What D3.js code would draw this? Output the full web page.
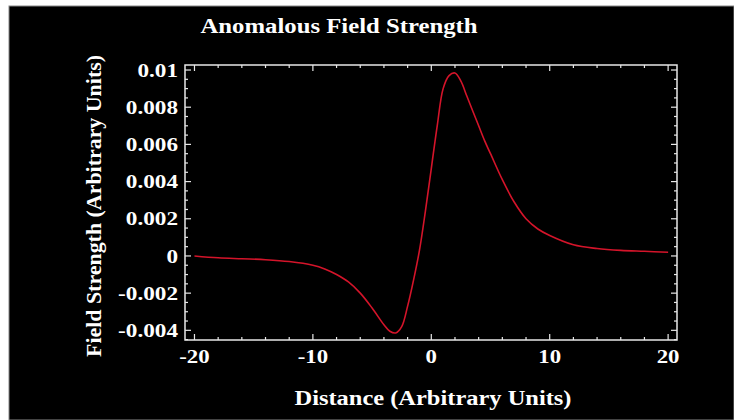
<!DOCTYPE html>
<html>
<head>
<meta charset="utf-8">
<script src="https://cdn.jsdelivr.net/npm/d3@7"></script>
<style>
  body { margin: 0; background: #fff; }
  text { font-family: "Liberation Serif", "DejaVu Serif", serif; font-weight: bold; fill: #fff; }
</style>
</head>
<body>
<div id="chart"></div>
<script>
// values
const distance = [-20, -18, -16, -14, -12, -10, -9, -8, -7, -6, -5, -4, -3.5, -3, -2.5, -2, -1.5, -1, -0.5, 0, 0.5, 1, 1.5, 2, 2.5, 3, 3.5, 4, 4.5, 5, 6, 7, 8, 9, 10, 12, 14, 16, 18, 20];
const strength = [0, -0.0001, -0.00015, -0.0002, -0.0003, -0.0005, -0.0007, -0.001, -0.0014, -0.002, -0.0028, -0.0037, -0.00405, -0.00414, -0.0038, -0.0027, -0.0013, 0.0003, 0.0024, 0.0047, 0.0070, 0.0090, 0.0097, 0.00984, 0.0094, 0.0086, 0.0078, 0.0070, 0.0062, 0.0055, 0.0041, 0.0029, 0.002, 0.00145, 0.0011, 0.0006, 0.0004, 0.0003, 0.00025, 0.0002];
const xTicks = [-20, -10, 0, 10, 20];
const yTicks = [-0.004, -0.002, 0, 0.002, 0.004, 0.006, 0.008, 0.01];

const data = distance.map((d, i) => ({ x: d, y: strength[i] }));

const W = 734, H = 420;
const mLeft = 185, mRight = 677, mTop = 65, mBottom = 340;

const svg = d3.select("#chart").append("svg")
  .attr("width", W)
  .attr("height", H);

svg.append("rect")
  .attr("x", 9).attr("y", 6)
  .attr("width", W - 9).attr("height", H - 6)
  .attr("fill", "#000")
  .attr("stroke", "#888")
  .attr("stroke-width", 1);

const x = d3.scaleLinear().domain([-20.8, 20.75]).range([mLeft, mRight]);
const y = d3.scaleLinear().domain([-0.00452, 0.01027]).range([mBottom, mTop]);

// frame
svg.append("rect")
  .attr("x", mLeft).attr("y", mTop)
  .attr("width", mRight - mLeft).attr("height", mBottom - mTop)
  .attr("fill", "none")
  .attr("stroke", "#e8e8e8")
  .attr("stroke-width", 1.5);

const xMinor = d3.range(-20, 20.01, 2);
const yMinor = d3.range(-0.0045, 0.01001, 0.0005);

// ticks pointing inward, on all four sides
const tickLayer = svg.append("g").attr("stroke", "#e8e8e8").attr("stroke-width", 1.2);
xMinor.forEach(v => {
  const len = xTicks.includes(Math.round(v)) ? 6 : 3;
  tickLayer.append("line").attr("x1", x(v)).attr("x2", x(v)).attr("y1", mBottom).attr("y2", mBottom - len);
  tickLayer.append("line").attr("x1", x(v)).attr("x2", x(v)).attr("y1", mTop).attr("y2", mTop + len);
});
yMinor.forEach(v => {
  const major = yTicks.some(t => Math.abs(t - v) < 1e-7);
  const len = major ? 6 : 3;
  tickLayer.append("line").attr("y1", y(v)).attr("y2", y(v)).attr("x1", mLeft).attr("x2", mLeft + len);
  tickLayer.append("line").attr("y1", y(v)).attr("y2", y(v)).attr("x1", mRight).attr("x2", mRight - len);
});

// widen text a bit, the original font is broader
const stretch = (sel, k) => sel.each(function() {
  const w = this.getComputedTextLength();
  d3.select(this).attr("textLength", w * k).attr("lengthAdjust", "spacingAndGlyphs");
});

// tick labels
svg.selectAll(".xlab")
  .data(xTicks)
  .enter().append("text")
  .attr("class", "xlab")
  .attr("x", d => x(d))
  .attr("y", 363)
  .attr("text-anchor", "middle")
  .style("font-size", "19px")
  .text(d => d)
  .call(stretch, 1.2);

svg.selectAll(".ylab")
  .data(yTicks)
  .enter().append("text")
  .attr("class", "ylab")
  .attr("x", 178)
  .attr("y", d => y(d))
  .attr("dy", "0.35em")
  .attr("text-anchor", "end")
  .style("font-size", "19px")
  .text(d => d === 0 ? "0" : String(+d.toFixed(3)))
  .call(stretch, 1.22);

// curve
svg.append("path")
  .datum(data)
  .attr("fill", "none")
  .attr("stroke", "#d4142a")
  .attr("stroke-width", 1.6)
  .attr("d", d3.line()
    .x(d => x(d.x))
    .y(d => y(d.y))
    .curve(d3.curveCatmullRom.alpha(0.5))
  );

// titles
svg.append("text")
  .attr("x", 339)
  .attr("y", 33)
  .attr("text-anchor", "middle")
  .attr("textLength", 277)
  .attr("lengthAdjust", "spacingAndGlyphs")
  .style("font-size", "20px")
  .text("Anomalous Field Strength");

svg.append("text")
  .attr("x", 433)
  .attr("y", 405)
  .attr("text-anchor", "middle")
  .attr("textLength", 277)
  .attr("lengthAdjust", "spacingAndGlyphs")
  .style("font-size", "20px")
  .text("Distance (Arbitrary Units)");

svg.append("text")
  .attr("transform", "translate(101,206) rotate(-90)")
  .attr("text-anchor", "middle")
  .attr("textLength", 302)
  .attr("lengthAdjust", "spacingAndGlyphs")
  .style("font-size", "20px")
  .text("Field Strength (Arbitrary Units)");
</script>
</body>
</html>
